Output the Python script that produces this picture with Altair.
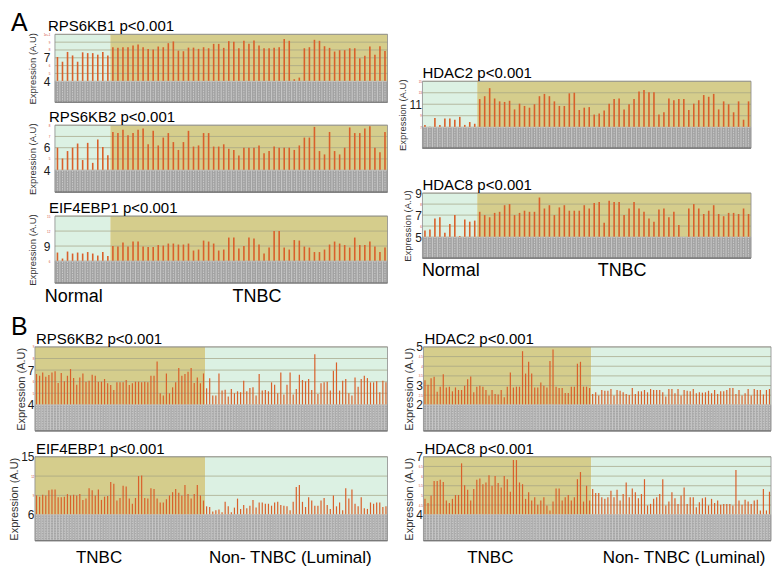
import json
import altair as alt
import pandas as pd

FONT = "Liberation Sans"
BAR = "#d9602b"
MINT = "#dcf1e3"
KHAKI = "#d5cd8c"
GRID = "#a3a283"
GRAY = "#a2a2a2"

# ---------------- Panel A : Normal vs TNBC ----------------
a_rps6kb1_normal = [7.1, 6.5, 7.75, 7.3, 6.5, 7.7, 7.6, 7.6, 7.4, 7.75, 7.3]
a_rps6kb1_tnbc = [8.35, 8.27, 8.35, 8.35, 8.57, 8.7, 8.35, 8.14, 8.05, 8.44,
                  8.35, 8.87, 9.09, 7.92, 7.84, 8.3, 8.3, 8.14, 8.35, 8.22,
                  8.78, 8.78, 8.27, 9.13, 9.04, 8.22, 9.17, 8.78, 9.2, 8.57,
                  8.22, 8.22, 8.27, 8.35, 9.4, 9.17, 4.26, 4.47, 8.22, 8.35,
                  9.3, 9.17, 8.48, 8.27, 7.8, 7.97, 7.97, 8.22, 8.22, 6.93,
                  7.27, 8.44, 7.4, 8.48, 7.88]

a_rps6kb2_normal = [6.0, 5.04, 5.7, 6.0, 6.37, 4.9, 6.43, 4.65, 6.73, 6.07, 5.33]
a_rps6kb2_tnbc = [7.4, 7.3, 7.6, 7.1, 7.3, 7.6, 7.7, 6.3, 7.5, 6.2,
                  6.9, 7.3, 6.5, 5.8, 6.5, 7.5, 6.1, 6.2, 7.3, 7.3,
                  6.1, 6.1, 6.3, 5.9, 5.8, 5.3, 6.0, 6.0, 6.0, 6.2,
                  5.5, 5.7, 6.1, 6.0, 6.0, 6.0, 5.8, 6.2, 6.9, 6.9,
                  7.85, 5.7, 5.4, 7.4, 5.7, 5.4, 6.0, 7.8, 7.3, 7.3,
                  7.7, 7.9, 6.0, 5.6, 7.4]

a_eif4ebp1_normal = [7.7, 6.5, 7.9, 7.5, 7.7, 7.5, 7.8, 7.5, 7.1, 7.8, 7.0]
a_eif4ebp1_tnbc = [9.0, 8.9, 9.7, 8.9, 9.9, 9.9, 8.9, 8.8, 8.8, 9.2,
                   9.1, 9.5, 9.5, 9.3, 9.3, 9.5, 8.1, 8.3, 10.1, 9.9,
                   9.5, 8.1, 8.3, 10.7, 10.7, 8.5, 9.0, 10.7, 10.5, 9.3,
                   7.5, 8.7, 12.0, 12.0, 8.7, 8.3, 10.2, 10.1, 8.9, 8.7,
                   7.8, 7.8, 8.3, 9.3, 9.9, 9.5, 9.2, 8.7, 10.7, 9.2,
                   9.2, 9.9, 8.9, 7.8, 8.7]

a_hdac2_normal = [7.4, 7.1, 8.6, 7.4, 8.5, 8.5, 8.3, 8.8, 7.4, 7.9, 7.6]
a_hdac2_tnbc = [11.9, 12.4, 13.8, 12.0, 11.5, 11.4, 11.6, 10.1, 11.1, 10.7,
                10.4, 11.0, 12.4, 12.8, 12.4, 11.5, 10.7, 10.7, 12.9, 13.0,
                10.0, 10.4, 10.5, 9.2, 9.4, 9.9, 11.1, 11.9, 12.0, 10.1,
                11.0, 11.9, 13.2, 13.5, 13.1, 13.1, 9.2, 9.6, 12.0, 11.7,
                11.9, 11.9, 10.0, 11.1, 11.7, 12.6, 12.3, 12.8, 10.1, 11.5,
                11.0, 9.6, 11.5, 8.3, 11.5]

a_hdac8_normal = [5.6, 5.7, 6.7, 6.8, 5.4, 6.2, 7.0, 5.1, 6.6, 6.4, 6.5]
a_hdac8_tnbc = [7.3, 7.0, 6.8, 7.2, 7.3, 7.9, 8.0, 7.0, 7.2, 7.4,
                7.3, 7.3, 8.6, 7.6, 7.9, 7.0, 7.7, 7.9, 7.4, 7.4,
                7.4, 7.9, 7.6, 8.1, 8.2, 6.3, 8.3, 8.2, 8.2, 7.0,
                7.6, 8.2, 7.6, 7.3, 6.7, 6.4, 7.5, 7.6, 6.8, 7.3,
                6.1, 5.0, 7.6, 8.0, 7.6, 7.1, 7.4, 7.9, 7.1, 6.9,
                7.2, 7.2, 7.1, 7.6, 7.1]

# ---------------- Panel B : TNBC vs Non-TNBC (Luminal) ----------------
b_rps6kb2_tnbc = [6.66, 6.51, 6.8, 6.43, 6.57, 6.8, 6.89, 5.89, 6.74, 6.03,
                  6.51, 7.09, 6.31, 5.74, 6.37, 6.71, 6.0, 6.09, 6.6, 6.51,
                  6.0, 6.0, 6.23, 5.86, 5.71, 5.29, 5.94, 5.94, 5.94, 6.14,
                  5.71, 5.86, 6.0, 6.0, 5.94, 6.0, 5.94, 6.51, 6.51, 7.74,
                  5.0, 4.8, 6.71, 5.0, 5.51, 5.94, 7.17, 6.51, 6.66, 6.86,
                  7.17, 5.89, 6.37, 5.86, 6.71]
b_rps6kb2_lum = [5.43, 6.29, 4.8, 4.8, 6.71, 5.23, 5.31, 4.71, 5.37, 5.0,
                 5.17, 5.09, 6.09, 5.17, 5.46, 5.51, 4.8, 6.66, 5.23, 5.29,
                 5.17, 5.94, 5.74, 5.0, 6.8, 4.89, 5.74, 6.8, 4.89, 5.37,
                 6.6, 6.14, 6.03, 6.23, 5.29, 8.37, 4.94, 5.86, 5.94, 6.0,
                 5.23, 6.94, 7.66, 5.23, 6.09, 6.23, 5.0, 4.8, 6.37, 5.57,
                 6.23, 6.51, 6.31, 5.94, 5.94, 6.03, 5.09, 6.09, 5.94]

b_eif4ebp1_tnbc = [9.0, 8.8, 9.1, 9.0, 9.8, 9.9, 9.9, 8.7, 8.7, 8.8,
                   9.2, 9.0, 9.1, 9.0, 9.2, 8.3, 8.5, 10.1, 9.8, 9.0,
                   9.9, 8.3, 8.8, 8.9, 11.1, 10.8, 8.2, 8.6, 10.5, 10.4,
                   8.5, 7.7, 8.6, 12.0, 12.1, 8.6, 8.5, 10.1, 10.0, 8.5,
                   7.9, 7.9, 8.4, 9.0, 9.5, 10.0, 9.4, 9.0, 10.6, 9.2,
                   8.5, 9.2, 10.6, 9.0, 8.2]
b_eif4ebp1_lum = [7.3, 7.2, 6.5, 6.7, 6.8, 6.4, 8.0, 7.3, 6.4, 7.1,
                  8.5, 6.9, 7.5, 7.0, 7.4, 8.3, 7.1, 7.9, 7.9, 7.7,
                  7.7, 7.4, 7.9, 8.0, 7.5, 7.4, 7.3, 6.7, 8.0, 10.3,
                  10.6, 8.0, 7.2, 8.7, 8.2, 7.4, 7.4, 8.2, 8.6, 7.5,
                  6.9, 9.0, 7.3, 7.9, 6.7, 10.1, 8.5, 9.9, 7.7, 7.3,
                  8.7, 7.0, 6.9, 7.9, 7.7, 7.9, 7.9, 7.2, 7.3]

b_hdac2_tnbc = [3.28, 3.04, 3.38, 3.45, 2.68, 2.94, 3.58, 2.9, 2.94, 2.7,
                2.9, 2.77, 2.77, 2.99, 3.33, 3.47, 2.65, 2.94, 2.99, 2.94,
                2.77, 2.48, 2.77, 2.56, 2.53, 2.77, 2.39, 2.94, 3.67, 2.9,
                2.94, 2.94, 4.78, 3.62, 4.23, 3.62, 2.9, 2.9, 3.16, 2.99,
                2.9, 4.27, 4.86, 2.94, 2.87, 2.87, 2.61, 2.61, 2.94, 2.94,
                4.13, 4.23, 2.94, 2.94, 2.87]
b_hdac2_lum = [2.56, 2.65, 2.48, 2.77, 2.73, 2.73, 2.82, 2.48, 2.77, 2.73,
               2.65, 2.56, 2.51, 2.87, 2.56, 2.7, 2.7, 2.77, 2.65, 2.82,
               2.77, 2.77, 2.77, 2.65, 2.43, 2.82, 2.82, 2.6, 2.82, 2.48,
               2.77, 2.73, 2.7, 2.82, 2.6, 2.65, 2.63, 2.65, 2.73, 2.6,
               2.77, 2.56, 2.7, 2.7, 2.77, 2.87, 2.87, 2.56, 2.77, 2.48,
               2.6, 2.82, 2.48, 2.82, 2.77, 2.77, 2.53, 2.77, 2.82]

b_hdac8_tnbc = [4.82, 4.61, 4.99, 5.75, 5.75, 5.81, 5.7, 4.73, 4.61, 4.82,
                5.02, 5.02, 6.66, 5.53, 5.29, 4.73, 5.33, 5.81, 5.87, 5.58,
                5.67, 6.04, 5.5, 6.0, 5.64, 5.41, 6.0, 5.84, 5.19, 6.83,
                6.83, 5.67, 5.58, 4.82, 5.16, 4.73, 4.9, 4.51, 4.73, 4.9,
                4.48, 4.22, 4.68, 5.36, 5.36, 4.73, 4.9, 5.02, 4.73, 4.9,
                5.84, 6.21, 4.68, 5.5, 4.73]
b_hdac8_lum = [5.33, 5.12, 5.12, 4.9, 4.82, 4.9, 5.24, 4.9, 5.29, 4.73,
               5.07, 5.67, 4.9, 5.36, 5.16, 4.85, 5.07, 5.84, 4.48, 4.56,
               4.82, 4.9, 5.07, 5.84, 4.48, 4.68, 5.16, 4.85, 4.56, 4.99,
               5.41, 4.56, 4.9, 4.9, 4.39, 4.65, 4.85, 4.9, 4.48, 4.82,
               4.61, 4.73, 4.51, 4.56, 4.56, 4.56, 4.48, 6.32, 4.73, 4.51,
               4.78, 4.68, 4.56, 4.73, 4.78, 4.22, 5.33, 4.22, 5.19]


def panel(title, groups, base, top, step, major, width, plot_h, gray_h, bar_w,
          ext=0, title_dx=0, axis_title_size=10, label_pad=4, title_pad=4,
          group_dx=None, label_size=18, label_dy=20, tag=None, tag_dx=-40,
          tag_y=-6):
    rows, bg = [], []
    i = 0
    for name, vals, color in groups:
        start = i
        for v in vals:
            rows.append({"i": i, "value": v, "base": base,
                         "x0": i - 0.5, "x1": i + 0.5})
            i += 1
        bg.append({"x0": start - 0.5, "x1": i - 0.5, "y0": base, "y1": top,
                   "fill": color, "name": name, "cx": (start + i - 1) / 2})
    n = i
    lo = base - gray_h / plot_h * (top - base)
    df = pd.DataFrame(rows)
    df["lo"] = lo
    bgdf = pd.DataFrame(bg)
    nsteps = int(round((top - base) / step))
    grid_vals = [round(base + k * step, 3) for k in range(nsteps + 1)]
    frame = pd.DataFrame({"x0": [-0.5], "x1": [n - 0.5], "lo": [lo], "top": [top]})
    griddf = pd.DataFrame({"g": grid_vals, "x0": -0.5, "x1": n - 0.5})

    left = -0.5 - ext * n / width          # blank margin at the left (pixels -> units)
    xs = alt.Scale(domain=[left, n - 0.5], nice=False, zero=False)
    ys = alt.Scale(domain=[lo, top], nice=False, zero=False)
    test = "indexof(%s, datum.value) >= 0" % json.dumps(major)
    yaxis = alt.Axis(
        values=grid_vals, title="Expression (A.U)", grid=False, ticks=False,
        domain=False, labelOverlap=False, labelFont=FONT, format="~g",
        labelFontSize={"condition": {"test": test, "value": 12}, "value": 3},
        labelColor={"condition": {"test": test, "value": "#1a1a1a"}, "value": "#d04a3a"},
        labelPadding=label_pad, titleFont=FONT, titleFontSize=axis_title_size,
        titleFontWeight="normal", titleColor="#333333", titlePadding=title_pad,
        offset=-ext,
    )

    def Y(f):
        return alt.Y(f, type="quantitative", scale=ys, axis=yaxis)

    def X(f):
        return alt.X(f, type="quantitative", scale=xs, axis=None)

    background = alt.Chart(bgdf).mark_rect().encode(
        x=X("x0"), x2="x1", y=Y("y0"), y2="y1",
        color=alt.Color("fill:N", scale=None))
    grid = alt.Chart(griddf).mark_rule(color=GRID, strokeWidth=0.7).encode(
        x=X("x0"), x2="x1", y=Y("g"))
    bars = alt.Chart(df).mark_rule(color=BAR, strokeWidth=bar_w).encode(
        x=X("i"), y=Y("value"), y2="base")
    boxes = alt.Chart(df).mark_rect(fill=GRAY, stroke="#d2d2d2", strokeWidth=0.5).encode(
        x=X("x0"), x2="x1", y=Y("lo"), y2="base")
    ticks = alt.Chart(df).mark_rule(color="#dcdcdc", strokeWidth=0.7,
                                    strokeDash=[1.5, 1]).encode(
        x=X("i"), y=Y("lo"), y2="base")
    bottom = alt.Chart(frame).mark_rule(color="#555555", strokeWidth=1.2).encode(
        x=X("x0"), x2="x1", y=Y("lo"))
    border = alt.Chart(frame).mark_rect(fillOpacity=0, stroke="#8c8c8c",
                                        strokeWidth=0.8).encode(
        x=X("x0"), x2="x1", y=Y("lo"), y2="top")
    head = alt.Chart(pd.DataFrame({"t": [title]})).mark_text(
        font=FONT, fontSize=15, color="black", align="left",
        baseline="alphabetic").encode(
        x=alt.value(ext + title_dx), y=alt.value(-3), text="t:N")
    layers = [background, grid, bars, boxes, ticks, bottom, border, head]
    if group_dx is not None:
        for k in range(len(bg)):
            layers.append(alt.Chart(bgdf.iloc[[k]]).mark_text(
                font=FONT, fontSize=label_size, color="black",
                baseline="alphabetic", dx=group_dx[k]).encode(
                x=X("cx"), y=alt.value(plot_h + gray_h + label_dy), text="name:N"))
    if tag:
        layers.append(alt.Chart(pd.DataFrame({"t": [tag]})).mark_text(
            font=FONT, fontSize=25, color="black", align="left",
            baseline="alphabetic").encode(
            x=alt.value(ext + tag_dx), y=alt.value(tag_y), text="t:N"))
    return alt.layer(*layers).properties(width=width + ext, height=plot_h + gray_h)


A_W_L, A_W_R, A_EXT = 333, 329, 20
p1 = panel("RPS6KB1 p<0.001",
           [("Normal", a_rps6kb1_normal, MINT), ("TNBC", a_rps6kb1_tnbc, KHAKI)],
           4, 10, 1, [7, 4], A_W_L, 47, 21, 1.6, ext=A_EXT, title_dx=-7,
           axis_title_size=9.5, label_pad=5, title_pad=6, tag="A", tag_dx=-44,
           tag_y=-3)
p2 = panel("RPS6KB2 p<0.001",
           [("Normal", a_rps6kb2_normal, MINT), ("TNBC", a_rps6kb2_tnbc, KHAKI)],
           4, 8, 1, [6, 4], A_W_L, 45, 22, 1.6, ext=A_EXT, title_dx=-6,
           axis_title_size=9.5, label_pad=5, title_pad=6)
p3 = panel("EIF4EBP1 p<0.001",
           [("Normal", a_eif4ebp1_normal, MINT), ("TNBC", a_eif4ebp1_tnbc, KHAKI)],
           6, 15, 3, [9], A_W_L, 45, 22, 1.6, ext=A_EXT, title_dx=-6,
           axis_title_size=9.5, label_pad=5, title_pad=6,
           group_dx=[-9, 8], label_size=18, label_dy=19)
p4 = panel("HDAC2 p<0.001",
           [("Normal", a_hdac2_normal, MINT), ("TNBC", a_hdac2_tnbc, KHAKI)],
           7, 15, 2, [11], A_W_R, 46, 21, 1.6, axis_title_size=9.5,
           label_pad=1, title_pad=2)
p5 = panel("HDAC8 p<0.001",
           [("Normal", a_hdac8_normal, MINT), ("TNBC", a_hdac8_tnbc, KHAKI)],
           5, 9, 1, [9, 7, 5], A_W_R, 44, 21, 1.6, axis_title_size=9.5,
           label_pad=1, title_pad=2,
           group_dx=[1, 8], label_size=18, label_dy=18)

spacer = alt.Chart(pd.DataFrame({"s": [0]})).mark_point(opacity=0).encode(
    x=alt.X("s:Q", axis=None), y=alt.Y("s:Q", axis=None)).properties(
    width=10, height=3)

B_W_L, B_W_R = 353, 348
q1 = panel("RPS6KB2 p<0.001",
           [("TNBC", b_rps6kb2_tnbc, KHAKI), ("Non- TNBC (Luminal)", b_rps6kb2_lum, MINT)],
           4, 9, 1, [7, 4], B_W_L, 58, 26, 1.2, axis_title_size=11, title_dx=1,
           label_pad=1, title_pad=1, tag="B", tag_dx=-24, tag_y=-12)
q2 = panel("EIF4EBP1 p<0.001",
           [("TNBC", b_eif4ebp1_tnbc, KHAKI), ("Non- TNBC (Luminal)", b_eif4ebp1_lum, MINT)],
           6, 15, 3, [15, 6], B_W_L, 58, 26, 1.2, axis_title_size=11, title_dx=1,
           label_pad=1, title_pad=1, group_dx=[-21, -6], label_size=17, label_dy=22)
q3 = panel("HDAC2 p<0.001",
           [("TNBC", b_hdac2_tnbc, KHAKI), ("Non- TNBC (Luminal)", b_hdac2_lum, MINT)],
           2, 5, 0.5, [5, 3, 2], B_W_R, 58, 26, 1.2, axis_title_size=11, title_dx=1,
           label_pad=1, title_pad=1)
q4 = panel("HDAC8 p<0.001",
           [("TNBC", b_hdac8_tnbc, KHAKI), ("Non- TNBC (Luminal)", b_hdac8_lum, MINT)],
           4, 7, 0.5, [7, 4], B_W_R, 58, 26, 1.2, axis_title_size=11, title_dx=1,
           label_pad=1, title_pad=1, group_dx=[-17, 3], label_size=17, label_dy=22)

A_left = alt.vconcat(p1, p2, p3, spacing=6)
A_right = alt.vconcat(spacer, p4, p5, spacing=27)
A = alt.hconcat(A_left, A_right, spacing=8)
B_left = alt.vconcat(q1, q2, spacing=10)
B_right = alt.vconcat(q3, q4, spacing=10)
B = alt.hconcat(B_left, B_right, spacing=15)

chart = alt.vconcat(A, B, spacing=9).properties(
    padding={"left": 0, "top": 3, "right": 0, "bottom": 0},
    background="white",
).configure_view(strokeWidth=0)

chart.save("out.html", embed_options={"renderer": "svg", "actions": False})
